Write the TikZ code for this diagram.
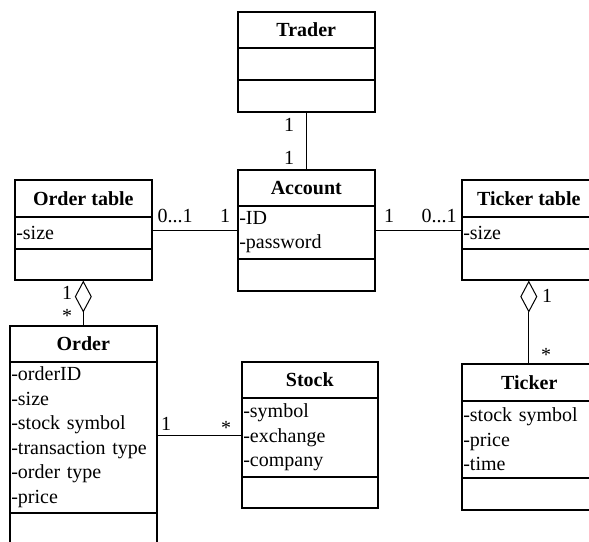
\documentclass[tikz,border=0pt]{standalone}
\usepackage{fontspec}
\setmainfont{Liberation Serif}
\usetikzlibrary{arrows.meta}
\newcommand{\umlfont}{\fontsize{20}{24.5}\selectfont}
\tikzset{
  base/.style={draw, line width=1.6pt, inner sep=0pt, anchor=north west, font=\umlfont},
  hdr/.style={base, font=\umlfont\bfseries, align=center},
  attr/.style={base, align=left, inner xsep=1.5pt},
  meth/.style={base},
  conn/.style={line width=0.9pt},
  lbl/.style={font=\umlfont, inner sep=0pt, anchor=base},
  agg/.style={conn, {Diamond[open, length=32pt, width=17pt, line width=1pt]}-}
}
\begin{document}
\begin{tikzpicture}[x=1pt, y=-1pt]
\useasboundingbox (0,0) rectangle (589,541);
\fill[white] (0,0) rectangle (589,541);
\clip (0,0) rectangle (589,541);

% Trader
\node[hdr, minimum width=137, minimum height=36] (tr-h) at (237,11) {Trader};
\node[meth, minimum width=137, minimum height=32] (tr-a) at (237,47) {};
\node[meth, minimum width=137, minimum height=32] (tr-m) at (237,79) {};

% Account
\node[hdr, minimum width=137, minimum height=36] (ac-h) at (237,169) {Account};
\node[attr, text width=134, minimum height=53] (ac-a) at (237,205) {-ID\\-password};
\node[meth, minimum width=137, minimum height=32] (ac-m) at (237,258) {};

% Order table
\node[hdr, minimum width=137, minimum height=37] (ot-h) at (14,179) {Order table};
\node[attr, text width=134, minimum height=32] (ot-a) at (14,216) {-size};
\node[meth, minimum width=137, minimum height=31] (ot-m) at (14,248) {};

% Ticker table
\node[hdr, minimum width=134, minimum height=37] (tt-h) at (461,179) {Ticker table};
\node[attr, text width=131, minimum height=32] (tt-a) at (461,216) {-size};
\node[meth, minimum width=134, minimum height=31] (tt-m) at (461,248) {};

% Order
\node[hdr, minimum width=147, minimum height=36] (or-h) at (9,325) {Order};
\node[attr, text width=144, minimum height=151] (or-a) at (9,361) {-orderID\\-size\\-stock symbol\\-transaction type\\-order type\\-price};
\node[meth, minimum width=147, minimum height=40] (or-m) at (9,512) {};

% Stock
\node[hdr, minimum width=136, minimum height=36] (st-h) at (241,361) {Stock};
\node[attr, text width=133, minimum height=79] (st-a) at (241,397) {-symbol\\-exchange\\-company};
\node[meth, minimum width=136, minimum height=31] (st-m) at (241,476) {};

% Ticker
\node[hdr, minimum width=135, minimum height=37] (ti-h) at (461,363) {Ticker};
\node[attr, text width=132, minimum height=77] (ti-a) at (461,400) {-stock symbol\\-price\\-time};
\node[meth, minimum width=135, minimum height=32] (ti-m) at (461,477) {};

% connectors
\draw[conn] (tr-m.south) -- (ac-h.north);
\draw[conn] (ot-a.east) ++(0,-2) coordinate (c1) -- (c1 -| ac-a.west);
\draw[conn] (tt-a.west) ++(0,-2) coordinate (c2) -- (c2 -| ac-a.east);
\draw[conn] (or-a.east) ++(0,-2) coordinate (c3) -- (c3 -| st-a.west);
\draw[agg] (ot-m.south) -- (or-h.north);
\draw[agg] (tt-m.south) -- (tt-m.south |- ti-h.north);

% multiplicity labels
\node[lbl] (l1) at (289,131.5) {1};
\node[lbl] (l2) at (289,164.5) {1};
\node[lbl] (l3) at (175,222.5) {0...1};
\node[lbl] (l4) at (225,222.5) {1};
\node[lbl] (l5) at (389,222.5) {1};
\node[lbl] (l6) at (439,222.5) {0...1};
\node[lbl] (l7) at (67,299.5) {1};
\node[lbl] (l8) at (67,322) {*};
\node[lbl] (l9) at (547,302.5) {1};
\node[lbl] (l10) at (546,361) {*};
\node[lbl] (l11) at (166,430) {1};
\node[lbl] (l12) at (226,434) {*};
\end{tikzpicture}
\end{document}
